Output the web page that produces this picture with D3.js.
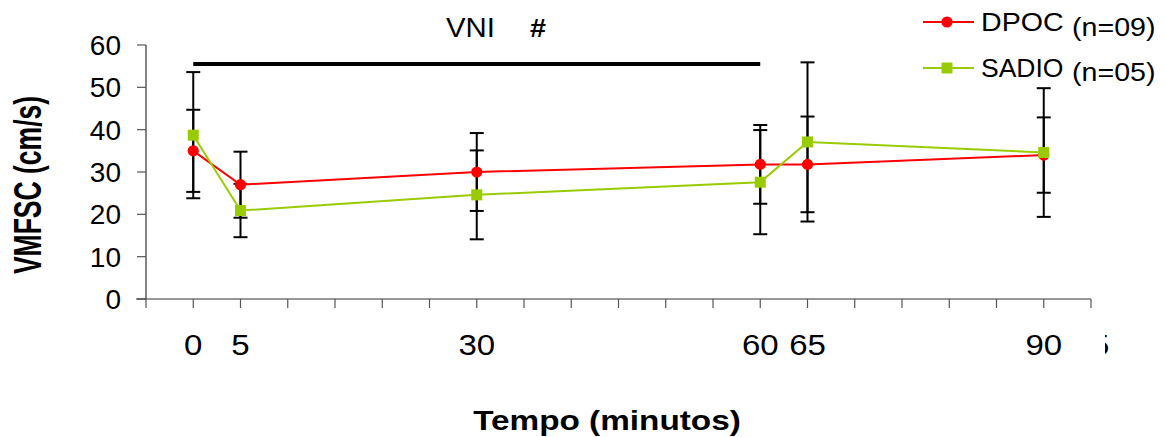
<!DOCTYPE html>
<html>
<head>
<meta charset="utf-8">
<script src="https://cdn.jsdelivr.net/npm/d3@7"></script>
<style>
  body { margin: 0; background: #fff; }
  svg { display: block; font-family: Arial, "Liberation Sans", sans-serif; }
</style>
</head>
<body>
<div id="chart"></div>
<script>
// data
const tempos = [0, 5, 30, 60, 65, 90];
const tickLabels = [0, 5, 30, 60, 65, 90];
const dpoc = [35.0, 27.0, 30.0, 31.8, 31.8, 34.0];
const dpocErr = [9.7, 7.8, 9.2, 9.3, 11.3, 8.9];
const sadio = [38.7, 20.9, 24.6, 27.6, 37.1, 34.6];
const sadioErr = [14.9, 6.3, 10.5, 12.3, 18.8, 15.2];
const yTicks = [0, 10, 20, 30, 40, 50, 60];

const width = 1165;
const height = 437;
const TX = 1.1; // the original picture is a little stretched sideways

const x = d3.scaleLinear().domain([-5, 95]).range([146, 1091]);
const y = d3.scaleLinear().domain([0, 60]).range([299, 45]);

const svg = d3.select("#chart").append("svg")
  .attr("width", width)
  .attr("height", height);

svg.append("rect").attr("width", width).attr("height", height).attr("fill", "#fff");

function label(g, px, py, txt, size, anchor, k, bold) {
  return g.append("text")
    .attr("transform", `translate(${px},${py}) scale(${k},1)`)
    .attr("text-anchor", anchor)
    .attr("font-size", size)
    .attr("font-weight", bold ? "bold" : "normal")
    .attr("fill", "#000")
    .text(txt);
}

// y axis
const yAxis = svg.append("g");
yAxis.append("line")
  .attr("x1", x(-5)).attr("x2", x(-5))
  .attr("y1", y(60)).attr("y2", y(0))
  .attr("stroke", "#333").attr("stroke-width", 1.2);
yAxis.selectAll(".yt").data(yTicks).join("line")
  .attr("x1", x(-5) - 9).attr("x2", x(-5))
  .attr("y1", d => y(d)).attr("y2", d => y(d))
  .attr("stroke", "#555").attr("stroke-width", 1.2);
yTicks.forEach(d => label(yAxis, 121, y(d) + 10, d, 28, "end", 1.0, false));

// x axis
const xAxis = svg.append("g");
xAxis.append("line")
  .attr("x1", x(-5) - 10).attr("x2", x(95))
  .attr("y1", y(0)).attr("y2", y(0))
  .attr("stroke", "#333").attr("stroke-width", 1.2);
xAxis.selectAll(".xt").data(d3.range(-5, 96, 5)).join("line")
  .attr("x1", d => x(d)).attr("x2", d => x(d))
  .attr("y1", y(0)).attr("y2", y(0) + 9)
  .attr("stroke", "#555").attr("stroke-width", 1.2);
tickLabels.forEach(d => label(xAxis, x(d), 355, d, 30, "middle", TX, false));

// the 95 label is cut off at the right edge
svg.append("clipPath").attr("id", "cut")
  .append("rect").attr("x", 1105).attr("y", 320).attr("width", 6).attr("height", 40);
label(xAxis.append("g").attr("clip-path", "url(#cut)"), x(95), 355, "95", 30, "middle", TX, false);

// axis titles
svg.append("text")
  .attr("transform", `translate(41,185) rotate(-90) scale(1,1.45)`)
  .attr("text-anchor", "middle")
  .attr("font-size", 26.5)
  .attr("font-weight", "bold")
  .text("VMFSC (cm/s)");
label(svg, 607, 430, "Tempo (minutos)", 28, "middle", 1.19, true);

// VNI bar
svg.append("line")
  .attr("x1", x(0)).attr("x2", x(60))
  .attr("y1", 64).attr("y2", 64)
  .attr("stroke", "#000").attr("stroke-width", 4);
label(svg, 446, 37, "VNI", 28, "start", 1.05, false);
label(svg, 530, 37, "#", 25, "start", 1.15, true);

// error bars
const bars = svg.append("g").attr("stroke", "#000").attr("stroke-width", 2);
function errorBars(vals, errs) {
  tempos.forEach((t, i) => {
    const cx = x(t);
    bars.append("line").attr("x1", cx).attr("x2", cx)
      .attr("y1", y(vals[i] + errs[i])).attr("y2", y(vals[i] - errs[i]));
    [vals[i] + errs[i], vals[i] - errs[i]].forEach(v => {
      bars.append("line").attr("x1", cx - 7).attr("x2", cx + 7)
        .attr("y1", y(v)).attr("y2", y(v));
    });
  });
}
errorBars(dpoc, dpocErr);
errorBars(sadio, sadioErr);

const line = d3.line().x((d, i) => x(tempos[i])).y(d => y(d));

// DPOC
svg.append("path").datum(dpoc)
  .attr("d", line).attr("fill", "none")
  .attr("stroke", "#ff0000").attr("stroke-width", 2);
svg.selectAll(".dp").data(dpoc).join("circle")
  .attr("cx", (d, i) => x(tempos[i])).attr("cy", d => y(d))
  .attr("r", 5.6).attr("fill", "#ff0000");

// SADIO
svg.append("path").datum(sadio)
  .attr("d", line).attr("fill", "none")
  .attr("stroke", "#99cc00").attr("stroke-width", 2);
svg.selectAll(".sd").data(sadio).join("rect")
  .attr("x", (d, i) => x(tempos[i]) - 5.5).attr("y", d => y(d) - 5.5)
  .attr("width", 11).attr("height", 11).attr("fill", "#99cc00");

// legend
const leg = svg.append("g");
leg.append("line").attr("x1", 923).attr("x2", 974).attr("y1", 22).attr("y2", 22)
  .attr("stroke", "#ff0000").attr("stroke-width", 2);
leg.append("circle").attr("cx", 947).attr("cy", 22).attr("r", 5.6).attr("fill", "#ff0000");
label(leg, 981, 31, "DPOC", 26, "start", 1.1, false);
label(leg, 1072, 36, "(n=09)", 26, "start", 1.1, false);

leg.append("line").attr("x1", 923).attr("x2", 974).attr("y1", 68).attr("y2", 68)
  .attr("stroke", "#99cc00").attr("stroke-width", 2);
leg.append("rect").attr("x", 941.5).attr("y", 62.5).attr("width", 11).attr("height", 11)
  .attr("fill", "#99cc00");
label(leg, 981, 77, "SADIO", 26, "start", 1.02, false);
label(leg, 1072, 81, "(n=05)", 26, "start", 1.1, false);
</script>
</body>
</html>
